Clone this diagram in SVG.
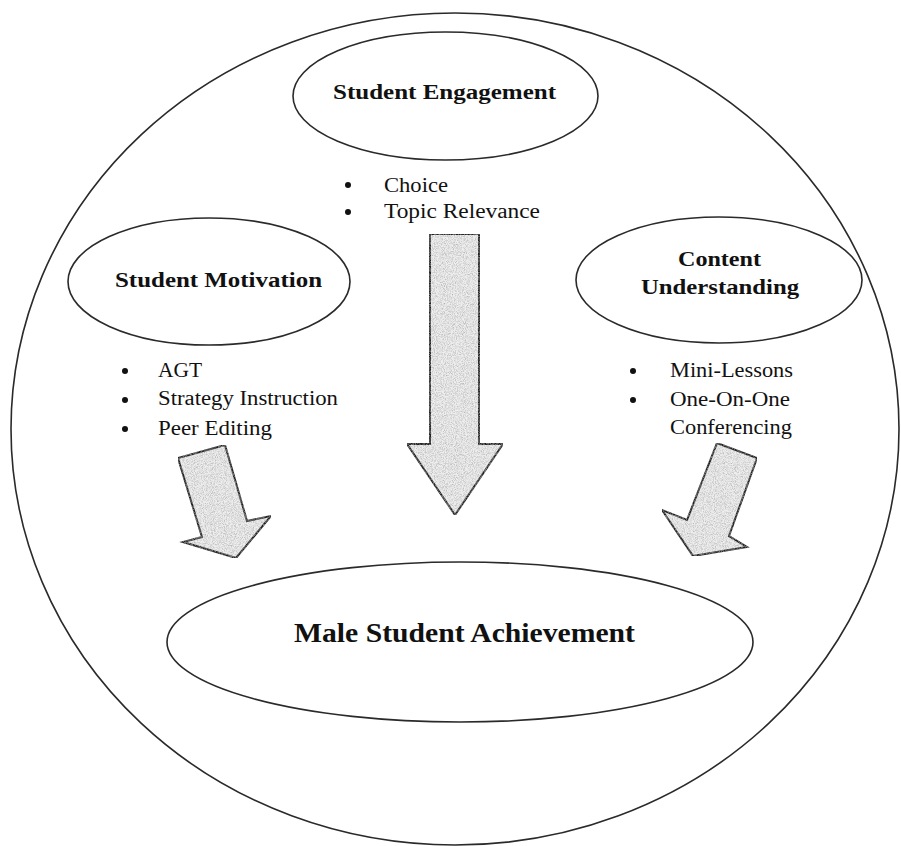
<svg xmlns="http://www.w3.org/2000/svg" width="901" height="846" viewBox="0 0 901 846">
<style>
.shape{fill:none;stroke:#2a2a2a;stroke-width:1.6}
.title{font-family:"Liberation Serif",serif;font-weight:bold;fill:#111;text-anchor:middle}
.item{font-family:"Liberation Serif",serif;font-size:20px;fill:#111}
.bullet{fill:#111}
.arrow{fill:#eeeeee;stroke:#222;stroke-width:2;stroke-linejoin:miter;filter:url(#tex)}
</style>
<defs>
<filter id="tex" x="0" y="0" width="1" height="1">
<feTurbulence type="fractalNoise" baseFrequency="1.1" numOctaves="2" seed="4" result="noise"/>
<feColorMatrix in="noise" type="matrix" values="0 0 0 0 0.35  0 0 0 0 0.35  0 0 0 0 0.35  1.6 0 0 0 -0.6" result="dots"/>
<feComposite in="dots" in2="SourceAlpha" operator="in" result="clip"/>
<feMerge><feMergeNode in="SourceGraphic"/><feMergeNode in="clip"/></feMerge>
</filter>
</defs>
<rect width="901" height="846" fill="#fff"/>
<g id="outer"><ellipse class="shape" cx="455" cy="429" rx="444" ry="416"/></g>
<g id="engagement">
<ellipse class="shape" cx="445.5" cy="96" rx="152.5" ry="64"/>
<text class="title" x="444.5" y="99" font-size="20" textLength="223" lengthAdjust="spacingAndGlyphs">Student Engagement</text>
</g>
<g id="engagement-items">
<circle class="bullet" cx="348" cy="185" r="3"/>
<text class="item" x="384" y="192" textLength="64" lengthAdjust="spacingAndGlyphs">Choice</text>
<circle class="bullet" cx="348" cy="212" r="3"/>
<text class="item" x="384" y="218" textLength="156" lengthAdjust="spacingAndGlyphs">Topic Relevance</text>
</g>
<g id="motivation">
<ellipse class="shape" cx="209" cy="281.5" rx="141" ry="63.5"/>
<text class="title" x="218.5" y="287" font-size="20" textLength="207" lengthAdjust="spacingAndGlyphs">Student Motivation</text>
</g>
<g id="motivation-items">
<circle class="bullet" cx="125" cy="371" r="3"/>
<text class="item" x="158" y="377" textLength="44" lengthAdjust="spacingAndGlyphs">AGT</text>
<circle class="bullet" cx="125" cy="400" r="3"/>
<text class="item" x="158" y="405" textLength="180" lengthAdjust="spacingAndGlyphs">Strategy Instruction</text>
<circle class="bullet" cx="125" cy="429" r="3"/>
<text class="item" x="158" y="435" textLength="114" lengthAdjust="spacingAndGlyphs">Peer Editing</text>
</g>
<g id="content">
<ellipse class="shape" cx="719" cy="280" rx="143" ry="63"/>
<text class="title" x="719.5" y="266" font-size="20" textLength="83" lengthAdjust="spacingAndGlyphs">Content</text>
<text class="title" x="720" y="294" font-size="20" textLength="158" lengthAdjust="spacingAndGlyphs">Understanding</text>
</g>
<g id="content-items">
<circle class="bullet" cx="633" cy="371" r="3"/>
<text class="item" x="670" y="377" textLength="123" lengthAdjust="spacingAndGlyphs">Mini-Lessons</text>
<circle class="bullet" cx="633" cy="400" r="3"/>
<text class="item" x="670" y="406" textLength="120" lengthAdjust="spacingAndGlyphs">One-On-One</text>
<text class="item" x="670" y="434" textLength="122" lengthAdjust="spacingAndGlyphs">Conferencing</text>
</g>
<g id="achievement">
<ellipse class="shape" cx="460" cy="642" rx="293" ry="80"/>
<text class="title" x="464.5" y="642" font-size="28" textLength="341" lengthAdjust="spacingAndGlyphs">Male Student Achievement</text>
</g>
<g id="connectors">
<polygon class="arrow" points="430,234 479,234 479,444 503,444 455,515 407,444 430,444"/>
<polygon class="arrow" points="178,458 225,445 247,521 271,516 236,558 183,542 202,537"/>
<polygon class="arrow" points="717,443 757,458 729,536 747,547 693,556 662,510 687,520"/>
</g>
</svg>
